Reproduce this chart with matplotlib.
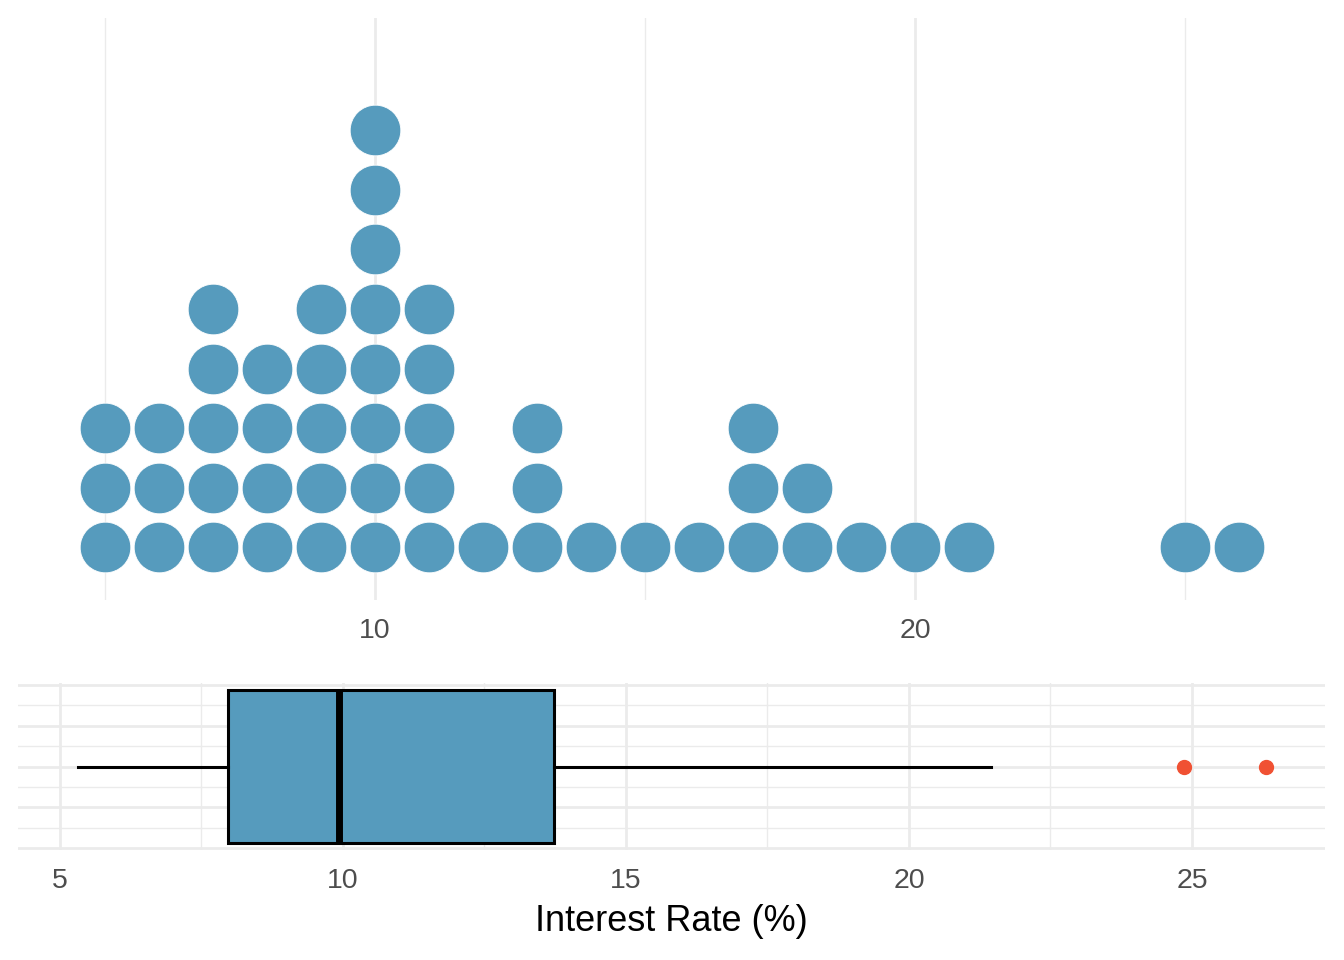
import numpy as np
import matplotlib.pyplot as plt
from matplotlib.ticker import FixedLocator

# dot plot: interest rate bins (%) and number of loans in each
rate_bins = [5, 6, 7, 8, 9, 10, 11, 12, 13, 14, 15, 16, 17, 18, 19, 20, 21, 25, 26]
bin_counts = [3, 3, 5, 4, 5, 8, 5, 1, 3, 1, 1, 1, 3, 2, 1, 1, 1, 1, 1]

# box plot summary
q1, median, q3 = 7.96, 9.93, 13.72
whisker_lo, whisker_hi = 5.31, 21.45
outliers = [24.85, 26.30]

blue = '#569BBD'
red = '#F05133'
grid_col = '#EBEBEB'
tick_col = '#4D4D4D'

plt.rcParams['font.family'] = ['Liberation Sans', 'DejaVu Sans']

fig = plt.figure(figsize=(13.44, 9.6), dpi=100)
W, H = 1344, 960

def style(ax):
    for s in ax.spines.values():
        s.set_visible(False)
    ax.tick_params(which='both', length=0, labelsize=20.5, labelcolor=tick_col)
    ax.grid(which='major', color=grid_col, lw=2.0)
    ax.grid(which='minor', color=grid_col, lw=1.0)
    ax.set_axisbelow(True)

# top: dot plot
ax1 = fig.add_axes([18/W, 1-600/H, 1307/W, 582/H])
xs, ys = [], []
for r, c in zip(rate_bins, bin_counts):
    for k in range(c):
        xs.append(r)
        ys.append(k)
ax1.scatter(xs, ys, s=1330, color=blue, edgecolor='white', linewidth=0.6, zorder=3)
ax1.set_xlim(3.389, 27.59)
ax1.set_ylim(-0.89, 8.89)
ax1.xaxis.set_major_locator(FixedLocator([10, 20]))
ax1.xaxis.set_minor_locator(FixedLocator([5, 15, 25]))
ax1.set_yticks([])
style(ax1)
ax1.yaxis.grid(False, which='both')
ax1.tick_params(axis='x', pad=13)

# bottom: box plot
ax2 = fig.add_axes([18/W, 1-850/H, 1307/W, 167/H])
stats = [dict(q1=q1, med=median, q3=q3, whislo=whisker_lo, whishi=whisker_hi,
              fliers=outliers)]
ax2.bxp(stats, positions=[0], widths=1.87, vert=False, patch_artist=True,
        showcaps=False,
        boxprops=dict(facecolor=blue, edgecolor='black', linewidth=2.2),
        medianprops=dict(color='black', linewidth=5),
        whiskerprops=dict(color='black', linewidth=2.2),
        flierprops=dict(marker='o', markerfacecolor=red, markeredgecolor=red,
                        markersize=10))
ax2.set_xlim(4.258, 27.35)
ax2.set_ylim(-1.025, 1.025)
ax2.xaxis.set_major_locator(FixedLocator([5, 10, 15, 20, 25]))
ax2.xaxis.set_minor_locator(FixedLocator([7.5, 12.5, 17.5, 22.5]))
ax2.yaxis.set_major_locator(FixedLocator([-1, -0.5, 0, 0.5, 1]))
ax2.yaxis.set_minor_locator(FixedLocator([-0.75, -0.25, 0.25, 0.75]))
ax2.set_yticklabels([])
ax2.set_xticklabels(['5', '10', '15', '20', '25'])
style(ax2)
ax2.tick_params(axis='x', pad=13)
ax2.set_xlabel('Interest Rate (%)', fontsize=26, color='black', labelpad=7.5)

fig.savefig('out.png', dpi=100)
